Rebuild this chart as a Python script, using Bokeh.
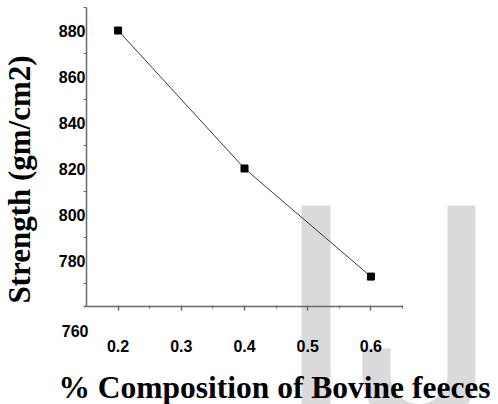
import math
from bokeh.plotting import figure
from bokeh.models import Range1d, FixedTicker, Label
from bokeh.embed import file_html
from bokeh.resources import INLINE

# ---- data ----
composition = [0.2, 0.4, 0.6]
strength = [880, 820, 773]
x_ticks = [0.2, 0.3, 0.4, 0.5, 0.6]
x_minor_ticks = [0.25, 0.35, 0.45, 0.55, 0.65]
y_ticks = [780, 800, 820, 840, 860, 880]
y_minor_ticks = [770, 790, 810, 830, 850, 870, 890]
y_extra_label = "760"
x_title = "% Composition of Bovine feeces"
y_title = "Strength (gm/cm2)"

# ---- layout (frame covers the whole canvas; axes drawn at fixed locations) ----
W, H = 498, 404
XS = 632.0   # px per x unit
YS = 2.3     # px per y unit
X0 = 0.15 - 86 / XS
X1 = X0 + W / XS
Y1 = 880 + 30 / YS
Y0 = Y1 - H / YS


def px(xp):
    return X0 + xp / XS


def py(yp):
    return Y1 - yp / YS


p = figure(width=W, height=H, title=None,
           x_range=Range1d(X0, X1), y_range=Range1d(Y0, Y1),
           output_backend="svg", toolbar_location=None,
           min_border_left=0, min_border_right=0,
           min_border_top=0, min_border_bottom=0)
p.outline_line_color = None
p.grid.visible = False
p.background_fill_color = "white"
p.border_fill_color = "white"

# ---- faint "IJ" watermark, drawn behind everything ----
wm = "#dadada"
# "I"
p.quad(left=[px(301)], right=[px(330)], top=[py(205)], bottom=[py(420)],
       fill_color=wm, line_color=None, level="underlay")
# "J" outline
cx, cy, r_in, r_out = 418.5, 375.0, 28.5, 56.5
jx = [475, 475]
jy = [205, cy]
for k in range(0, 37):
    t = math.pi * k / 36
    jx.append(cx + r_out * math.cos(t))
    jy.append(cy + r_out * math.sin(t))
jx += [362, 390]
jy += [348, 348]
for k in range(36, -1, -1):
    t = math.pi * k / 36
    jx.append(cx + r_in * math.cos(t))
    jy.append(cy + r_in * math.sin(t))
jx += [447]
jy += [205]
p.patch([px(v) for v in jx], [py(v) for v in jy],
        fill_color=wm, line_color=None, level="underlay")

axis_col = "#6a6a6a"
xa = p.xaxis[0]
xa.fixed_location = 760
xa.bounds = (0.1455, 0.65)
xa.ticker = FixedTicker(ticks=x_ticks, minor_ticks=x_minor_ticks)
xa.axis_line_color = axis_col
xa.axis_line_width = 1.5
xa.major_tick_line_color = axis_col
xa.minor_tick_line_color = axis_col
xa.major_tick_line_width = 1.5
xa.minor_tick_line_width = 1.2
xa.major_tick_out = 4
xa.major_tick_in = 1
xa.minor_tick_out = 2
xa.minor_tick_in = 1
xa.major_label_standoff = 29
xa.major_label_text_font = "Liberation Sans"
xa.major_label_text_font_style = "bold"
xa.major_label_text_font_size = "16px"
xa.major_label_text_color = "black"

ya = p.yaxis[0]
ya.fixed_location = 0.15
ya.bounds = (760, 890)
ya.ticker = FixedTicker(ticks=y_ticks, minor_ticks=y_minor_ticks)
ya.axis_line_color = axis_col
ya.axis_line_width = 1.5
ya.major_tick_line_color = None
ya.major_tick_out = 0
ya.major_tick_in = 0
ya.minor_tick_line_color = axis_col
ya.minor_tick_line_width = 1.2
ya.minor_tick_out = 3
ya.minor_tick_in = 0
ya.major_label_standoff = -2
ya.major_label_text_font = "Liberation Sans"
ya.major_label_text_font_style = "bold"
ya.major_label_text_font_size = "16px"
ya.major_label_text_color = "black"

p.line(composition, strength, line_color="#3a3a3a", line_width=1)
p.scatter(composition, strength, marker="square", size=7,
          fill_color="black", line_color="black")

p.add_layout(Label(x=px(88), y=py(330), text=y_extra_label, text_font="Liberation Sans",
                   text_font_style="bold", text_font_size="16px", text_color="black",
                   text_align="right", text_baseline="middle"))

p.add_layout(Label(x=px(274), y=py(387), text=x_title, text_font="Liberation Serif",
                   text_font_style="bold", text_font_size="31.5px", text_color="black",
                   text_align="center", text_baseline="alphabetic"))

p.add_layout(Label(x=px(19), y=py(179), text=y_title, text_font="Liberation Serif",
                   text_font_style="bold", text_font_size="31px", text_color="black",
                   text_align="center", text_baseline="alphabetic", angle=1.5707963))

open("out.html", "w").write(file_html(p, INLINE))
